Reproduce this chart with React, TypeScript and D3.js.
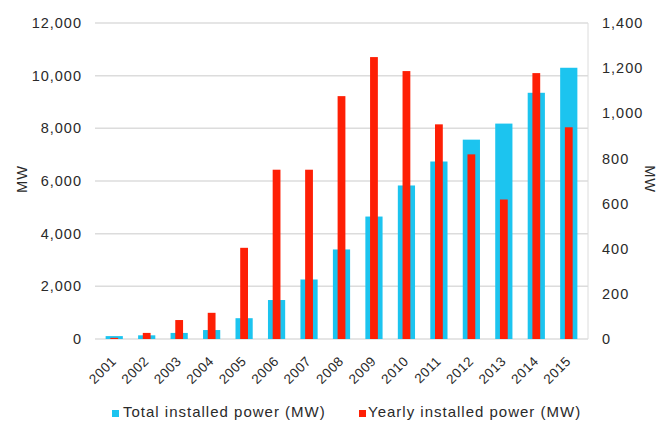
import React from "react";
import * as d3 from "d3";

const years = ["2001","2002","2003","2004","2005","2006","2007","2008","2009","2010","2011","2012","2013","2014","2015"];
const totalMW = [110, 140, 230, 340, 790, 1480, 2260, 3400, 4650, 5830, 6740, 7570, 8180, 9350, 10300];
const yearlyMW = [5, 27, 84, 116, 404, 750, 750, 1076, 1249, 1187, 951, 818, 618, 1178, 938];
const leftTicks = [0, 2000, 4000, 6000, 8000, 10000, 12000];
const rightTicks = [0, 200, 400, 600, 800, 1000, 1200, 1400];

const W = 660, H = 423;
const m = { left: 98, right: 585, top: 23, bottom: 339 };
const CYAN = "#1cc4ef";
const RED = "#fe1f05";
const TXT = "#2a2a2a";
const FONT = "'Liberation Sans', Arial, Helvetica, sans-serif";

export default function App() {
  const x = d3.scaleBand().domain(years).range([m.left, m.right]).paddingInner(0).paddingOuter(0);
  const yL = d3.scaleLinear().domain([0, 12000]).range([m.bottom, m.top]);
  const yR = d3.scaleLinear().domain([0, 1400]).range([m.bottom, m.top]);
  const fmt = d3.format(",");
  const bw = x.bandwidth();
  const cw = bw * 0.53;
  const rw = bw * 0.24;
  return (
    <svg width={W} height={H} style={{ position: "absolute", left: 0, top: 0, background: "#fff" }} fontFamily={FONT}>
      {leftTicks.map((t) => (
        <g key={"l" + t}>
          <line x1={95} x2={588} y1={yL(t)} y2={yL(t)} stroke="#dcdcdc" strokeWidth={1.5} />
          <text x={82} y={yL(t)} dy="0.35em" textAnchor="end" fontSize={14.5} letterSpacing={1} fill={TXT}>{fmt(t)}</text>
        </g>
      ))}
      <line x1={588} x2={588} y1={m.top} y2={m.bottom} stroke="#dcdcdc" strokeWidth={1} />
      {rightTicks.map((t) => (
        <text key={"r" + t} x={602} y={yR(t)} dy="0.35em" textAnchor="start" fontSize={14.5} letterSpacing={1} fill={TXT}>{fmt(t)}</text>
      ))}
      <text transform={`translate(27,${179}) rotate(-90)`} textAnchor="middle" fontSize={14.5} letterSpacing={1} fill={TXT}>MW</text>
      <text transform={`translate(645,${179}) rotate(90)`} textAnchor="middle" fontSize={14.5} letterSpacing={1} fill={TXT}>MW</text>
      {years.map((yr, i) => {
        const cx = (x(yr) as number) + bw / 2;
        return (
          <g key={yr}>
            <rect x={cx - cw / 2} y={yL(totalMW[i])} width={cw} height={m.bottom - yL(totalMW[i])} fill={CYAN} />
            <rect x={cx - rw / 2} y={yR(yearlyMW[i])} width={rw} height={m.bottom - yR(yearlyMW[i])} fill={RED} />
            <text transform={`translate(${cx + 3},${362}) rotate(-45)`} textAnchor="end" fontSize={13.5} letterSpacing={0.5} fill={TXT}>{yr}</text>
          </g>
        );
      })}
      <rect x={112} y={410} width={7} height={7} fill={CYAN} />
      <text x={123} y={417} fontSize={15} letterSpacing={1} fill={TXT}>Total installed power (MW)</text>
      <rect x={359} y={410} width={7} height={7} fill={RED} />
      <text x={368} y={417} fontSize={15} letterSpacing={1} fill={TXT}>Yearly installed power (MW)</text>
    </svg>
  );
}
